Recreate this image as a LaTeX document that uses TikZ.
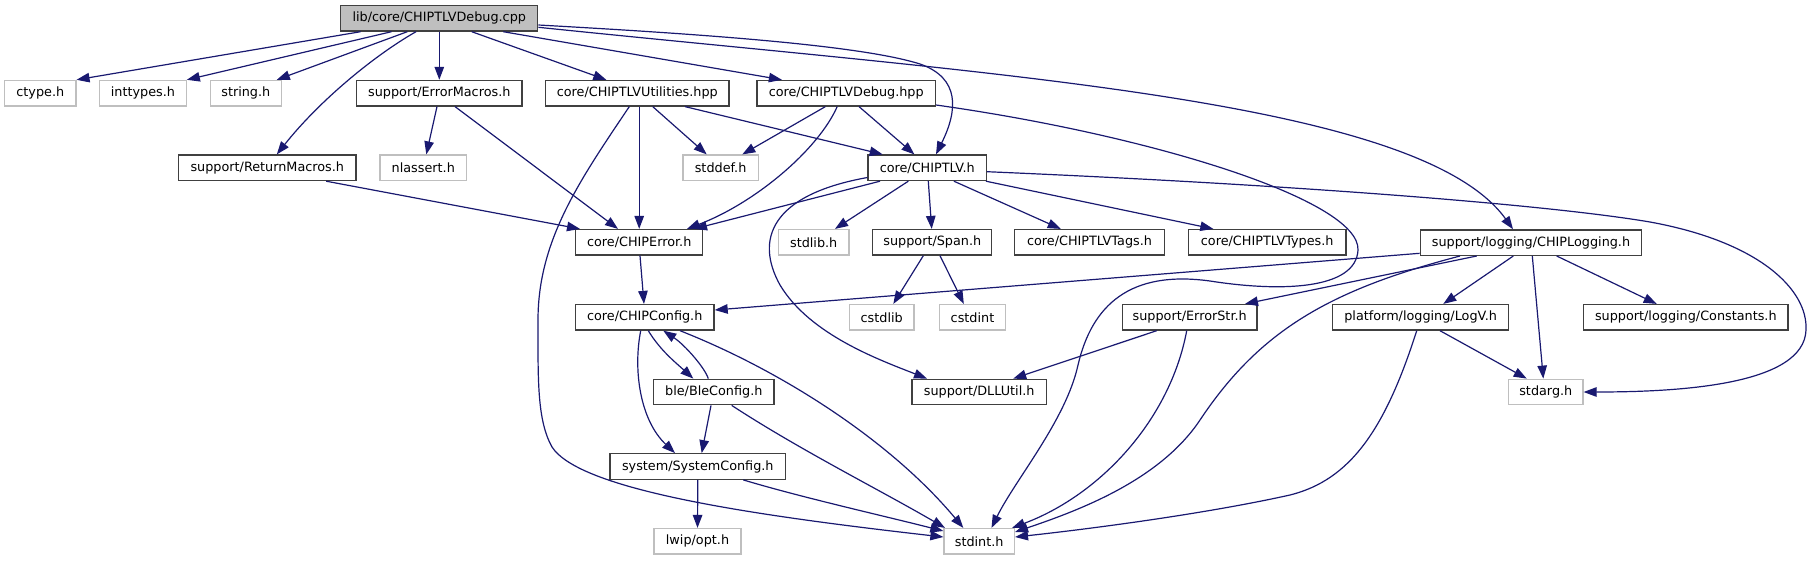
\documentclass[tikz,border=0pt]{standalone}
\usepackage{fontspec}
\setmainfont{DejaVu Sans}
\usetikzlibrary{arrows.meta}
\definecolor{edgeblue}{HTML}{191970}
\definecolor{boxborder}{HTML}{404040}
\definecolor{extborder}{HTML}{BFBFBF}
\definecolor{rootfill}{HTML}{BFBFBF}
\begin{document}
\begin{tikzpicture}[x=1pt,y=-1pt,
 box/.style={draw=boxborder, line width=1.3pt, fill=white, minimum height=25.5pt, inner sep=0pt, font=\fontsize{12.8}{15}\selectfont, anchor=center},
 ext/.style={box, draw=extborder},
 rootbox/.style={box, fill=rootfill},
 edge/.style={draw=edgeblue, line width=1.2pt, -{Triangle[length=13pt,width=9.5pt]}}]
\useasboundingbox (0,0) rectangle (1814,560);
% nodes
\node[rootbox, minimum width=197pt] (root) at (439.3,18.3) {lib/core/CHIPTLVDebug.cpp};
\node[ext, minimum width=71.2pt] (ctype) at (40.3,93.2) {ctype.h};
\node[ext, minimum width=86.6pt] (inttypes) at (142.9,93.2) {inttypes.h};
\node[ext, minimum width=70.7pt] (string) at (245.8,93.2) {string.h};
\node[box, minimum width=165.3pt] (errmac) at (439.3,93.2) {support/ErrorMacros.h};
\node[box, minimum width=183.3pt] (util) at (637.3,93.2) {core/CHIPTLVUtilities.hpp};
\node[box, minimum width=178.3pt] (dbghpp) at (846.2,93.2) {core/CHIPTLVDebug.hpp};
\node[box, minimum width=177.2pt] (retmac) at (267.3,167.8) {support/ReturnMacros.h};
\node[ext, minimum width=86.6pt] (nlassert) at (423.3,167.8) {nlassert.h};
\node[ext, minimum width=75.2pt] (stddef) at (720.6,167.8) {stddef.h};
\node[box, minimum width=118.2pt] (tlv) at (927.2,167.8) {core/CHIPTLV.h};
\node[box, minimum width=127pt] (chiperr) at (639.2,242.3) {core/CHIPError.h};
\node[ext, minimum width=70.8pt] (stdlib) at (813.7,242.3) {stdlib.h};
\node[box, minimum width=119pt] (span) at (932.3,242.3) {support/Span.h};
\node[box, minimum width=149.5pt] (tags) at (1089.5,242.3) {core/CHIPTLVTags.h};
\node[box, minimum width=157.7pt] (types) at (1267.2,242.3) {core/CHIPTLVTypes.h};
\node[box, minimum width=221.4pt] (logging) at (1531,242.6) {support/logging/CHIPLogging.h};
\node[box, minimum width=138.7pt] (config) at (644.7,317.3) {core/CHIPConfig.h};
\node[ext, minimum width=64.7pt] (cstdlib) at (881.7,317.3) {cstdlib};
\node[ext, minimum width=66.4pt] (cstdint) at (972.5,317.3) {cstdint};
\node[box, minimum width=134.7pt] (errstr) at (1189.7,317.3) {support/ErrorStr.h};
\node[box, minimum width=175.8pt] (logv) at (1420.6,317.3) {platform/logging/LogV.h};
\node[box, minimum width=204.3pt] (consts) at (1685.8,317.3) {support/logging/Constants.h};
\node[box, minimum width=120.3pt] (ble) at (713.8,392) {ble/BleConfig.h};
\node[box, minimum width=134.4pt] (dll) at (979.2,392) {support/DLLUtil.h};
\node[ext, minimum width=74.3pt] (stdarg) at (1545.8,392) {stdarg.h};
\node[box, minimum width=175.7pt] (syscfg) at (697.8,466.5) {system/SystemConfig.h};
\node[ext, minimum width=87pt] (lwip) at (697.5,541.3) {lwip/opt.h};
\node[ext, minimum width=70.4pt] (stdint) at (979.2,541.3) {stdint.h};
% root edges
\draw[edge] ([xshift=-78.7pt]root.south) -- (ctype.north east);
\draw[edge] ([xshift=-47.8pt]root.south) -- (inttypes.north east);
\draw[edge] ([xshift=-32pt]root.south) -- ([xshift=31pt]string.north);
\draw[edge] ([xshift=-23.3pt]root.south) .. controls (375,55) and (320,100) .. ([xshift=9.5pt]retmac.north);
\draw[edge] (root.south) -- (errmac.north);
\draw[edge] ([xshift=32.4pt]root.south) -- ([xshift=-31pt]util.north);
\draw[edge] ([xshift=64pt]root.south) -- ([xshift=-64.3pt]dbghpp.north);
\draw[edge] ([yshift=-6.7pt]root.east) .. controls (700,34) and (860,45) .. (920,64) .. controls (960,78) and (958,110) .. ([xshift=8.8pt]tlv.north);
\draw[edge] ([yshift=-9pt]root.east) .. controls (1000,75) and (1420,100) .. ([xshift=-18pt]logging.north);
% CHIPTLVDebug.hpp
\draw[edge] ([xshift=-20.8pt]dbghpp.south) -- ([xshift=21.7pt]stddef.north);
\draw[edge] ([xshift=-9pt]dbghpp.south) .. controls (818,150) and (755,203) .. ([xshift=47.8pt]chiperr.north);
\draw[edge] ([xshift=12.8pt]dbghpp.south) -- ([xshift=-12.8pt]tlv.north);
\draw[edge] ([yshift=-11.8pt]dbghpp.east) .. controls (1150,135) and (1360,200) .. (1358,250) .. controls (1356,290) and (1280,292) .. (1210,281) .. controls (1130,270) and (1092,305) .. (1078,365) .. controls (1066,420) and (1015,480) .. ([xshift=12.3pt]stdint.north);
% CHIPTLVUtilities.hpp
\draw[edge] ([xshift=-8pt]util.south) .. controls (580,180) and (538,240) .. (538,320) .. controls (538,380) and (537,420) .. (552,447) .. controls (580,490) and (750,515) .. ([yshift=4.3pt]stdint.west);
\draw[edge] ([xshift=1.9pt]util.south) -- (chiperr.north);
\draw[edge] ([xshift=15.4pt]util.south) -- ([xshift=-13.9pt]stddef.north);
\draw[edge] ([xshift=47.7pt]util.south) -- ([xshift=-44.5pt]tlv.north);
% ErrorMacros / ReturnMacros
\draw[edge] ([xshift=-2.3pt]errmac.south) -- ([xshift=3pt]nlassert.north);
\draw[edge] ([xshift=15.7pt]errmac.south) -- ([xshift=-21.2pt]chiperr.north);
\draw[edge] ([xshift=58.9pt]retmac.south) -- ([xshift=-59.2pt]chiperr.north);
% CHIPTLV.h
\draw[edge] ([xshift=-47.2pt]tlv.south) -- ([xshift=54.8pt]chiperr.north);
\draw[edge] ([yshift=3.7pt]tlv.south west) .. controls (770,195) and (755,240) .. (780,285) .. controls (810,335) and (880,360) .. ([xshift=-52.2pt]dll.north);
\draw[edge] ([xshift=-18.9pt]tlv.south) -- ([xshift=21.3pt]stdlib.north);
\draw[edge] ([xshift=1.1pt]tlv.south) -- ([xshift=-0.6pt]span.north);
\draw[edge] ([xshift=26.7pt]tlv.south) -- ([xshift=-28.8pt]tags.north);
\draw[edge] ([xshift=-1pt]tlv.south east) -- ([xshift=-53.9pt]types.north);
\draw[edge] ([yshift=-3.9pt]tlv.east) .. controls (1300,185) and (1550,205) .. (1650,222) .. controls (1760,242) and (1808,290) .. (1806,330) .. controls (1804,385) and (1680,392) .. (stdarg.east);
% Span.h
\draw[edge] ([xshift=-9pt]span.south) -- ([xshift=11.6pt]cstdlib.north);
\draw[edge] ([xshift=7.7pt]span.south) -- ([xshift=-8.7pt]cstdint.north);
% CHIPError.h
\draw[edge] ([xshift=0.8pt]chiperr.south) -- ([xshift=-0.7pt]config.north);
% CHIPLogging.h
\draw[edge] ([yshift=-10.7pt]logging.west) -- ([yshift=7.3pt]config.east);
\draw[edge] ([xshift=-54.3pt]logging.south) -- ([xshift=55.3pt]errstr.north);
\draw[edge] ([xshift=-71pt]logging.south) .. controls (1330,290) and (1260,330) .. (1200,420) .. controls (1160,480) and (1080,510) .. ([yshift=9.3pt]stdint.east);
\draw[edge] ([xshift=-17.7pt]logging.south) -- ([xshift=22.7pt]logv.north);
\draw[edge] ([xshift=1.3pt]logging.south) -- ([xshift=-2.5pt]stdarg.north);
\draw[edge] ([xshift=25.7pt]logging.south) -- ([xshift=-29.1pt]consts.north);
% ErrorStr.h
\draw[edge] ([xshift=-33pt]errstr.south) -- ([xshift=34pt]dll.north);
\draw[edge] ([xshift=-3pt]errstr.south) .. controls (1170,420) and (1100,495) .. ([xshift=-3pt]stdint.north east);
% LogV.h
\draw[edge] ([xshift=19.4pt]logv.south) -- ([xshift=-19.1pt]stdarg.north);
\draw[edge] ([xshift=-3.9pt]logv.south) .. controls (1385,430) and (1350,480) .. (1290,495) .. controls (1200,515) and (1080,530) .. ([yshift=4.3pt]stdint.east);
% CHIPConfig.h / BleConfig.h
\draw[edge] ([xshift=3.6pt]config.south) .. controls (660,350) and (675,362) .. ([xshift=-20.5pt]ble.north);
\draw[edge] ([xshift=-5.5pt]ble.north) .. controls (705,368) and (685,345) .. ([xshift=18.6pt]config.south);
\draw[edge] ([xshift=-4pt]config.south) .. controls (633,370) and (640,420) .. ([xshift=-22.8pt]syscfg.north);
\draw[edge] ([xshift=35.3pt]config.south) .. controls (780,370) and (890,440) .. ([xshift=-15.9pt]stdint.north);
\draw[edge] ([xshift=-2.8pt]ble.south) -- ([xshift=3.9pt]syscfg.north);
\draw[edge] ([xshift=17.9pt]ble.south) .. controls (800,450) and (880,490) .. ([xshift=-34.2pt]stdint.north);
% SystemConfig.h
\draw[edge] (syscfg.south) -- (lwip.north);
\draw[edge] ([xshift=45.5pt]syscfg.south) .. controls (800,497) and (880,515) .. ([yshift=10.3pt]stdint.west);
\end{tikzpicture}
\end{document}
